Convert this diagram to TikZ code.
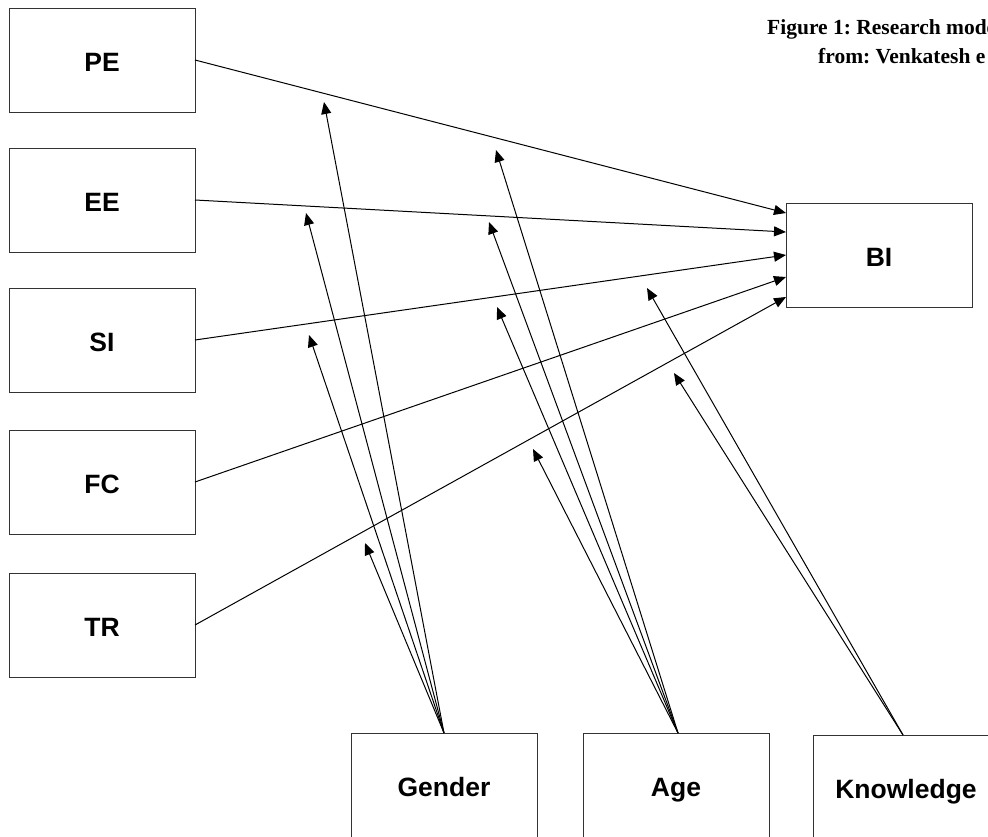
\documentclass[tikz,border=0pt]{standalone}
\usepackage{fontspec}
\setmainfont{Liberation Sans}
\newfontfamily\titlefont{Liberation Serif}
\usetikzlibrary{arrows.meta}
\frenchspacing
\begin{document}
\begin{tikzpicture}[x=1pt,y=-1pt,
  box/.style={draw=black!80, line width=1pt, minimum width=186pt, minimum height=104pt,
    inner sep=0pt, outer sep=0pt, font=\bfseries\fontsize{26.5}{30}\selectfont,
    text height=22pt, text depth=0pt},
  conn/.style={line width=1pt, -{Triangle[length=12pt,width=10pt]}},
  titletext/.style={font=\titlefont\bfseries\fontsize{21.5}{25}\selectfont, anchor=base west, inner sep=0pt}]
\useasboundingbox (0,0) rectangle (988,836);
\clip (0,0) rectangle (988,836);
\fill[white] (0,0) rectangle (988,836);

% title
\node[titletext] (t1) at (767,34) {Figure 1: Research mode};
\node[titletext] (t2) at (818,63) {from: Venkatesh e};

% boxes
\node[box] (PE) at (102,60) {PE};
\node[box] (EE) at (102,200) {EE};
\node[box] (SI) at (102,340) {SI};
\node[box] (FC) at (102,482) {FC};
\node[box] (TR) at (102,625) {TR};
\node[box] (BI) at (879,255) {BI};
\node[box] (G) at (444,785) {Gender};
\node[box] (A) at (676,785) {Age};
\node[box] (K) at (906,787) {Knowledge};

% targets on BI
\coordinate (b1) at (786,213);
\coordinate (b2) at (786,232);
\coordinate (b3) at (786,255);
\coordinate (b4) at (786,277);
\coordinate (b5) at (786,297);

\draw[conn] (PE.east) -- (b1);
\draw[conn] (EE.east) -- (b2);
\draw[conn] (SI.east) -- (b3);
\draw[conn] (FC.east) -- (b4);
\draw[conn] (TR.east) -- (b5);

% moderator tips
\coordinate (g1) at (324,102);
\coordinate (g2) at (306,213);
\coordinate (g3) at (309,335);
\coordinate (g4) at (365,543);
\coordinate (a1) at (496,150);
\coordinate (a2) at (489,222);
\coordinate (a3) at (497,307);
\coordinate (a4) at (533,449);
\coordinate (k1) at (647,288);
\coordinate (k2) at (674,373);

\foreach \t in {g1,g2,g3,g4} \draw[conn] (G.north) -- (\t);
\foreach \t in {a1,a2,a3,a4} \draw[conn] ([xshift=2pt]A.north) -- (\t);
\foreach \t in {k1,k2} \draw[conn] ([xshift=-3pt]K.north) -- (\t);
\end{tikzpicture}
\end{document}
